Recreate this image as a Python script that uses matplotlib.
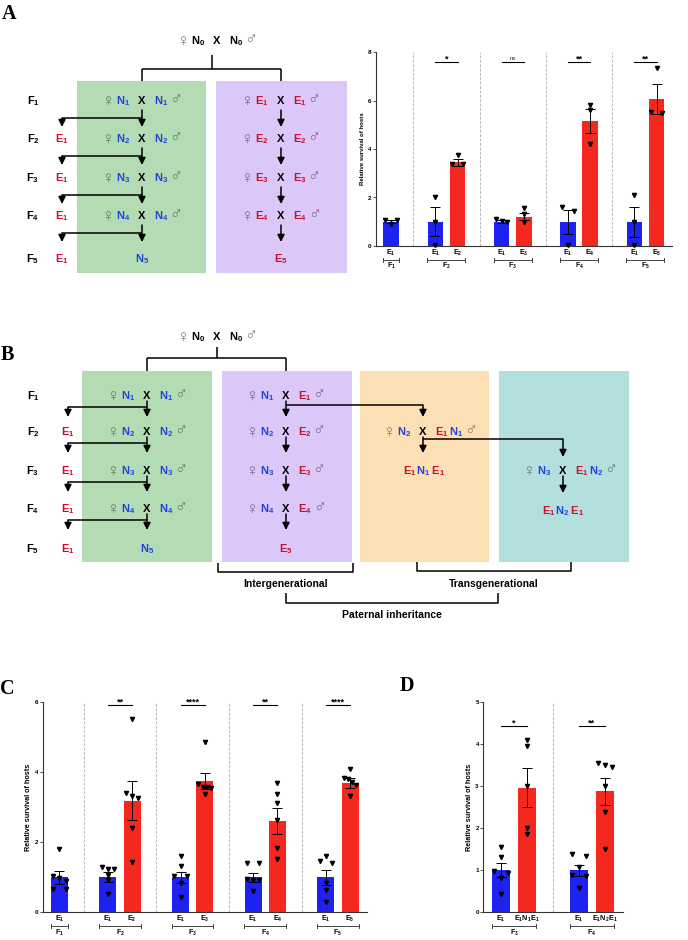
import numpy as np
import matplotlib
matplotlib.use("Agg")
import matplotlib.pyplot as plt
from matplotlib.patches import Rectangle

plt.rcParams["font.family"] = ["Liberation Sans", "DejaVu Sans"]
plt.rcParams["mathtext.fontset"] = "custom"
plt.rcParams["mathtext.rm"] = "Liberation Sans"
plt.rcParams["mathtext.bf"] = "Liberation Sans:bold"
plt.rcParams["mathtext.it"] = "Liberation Sans:italic"

# ----------------------------
# Data
# ----------------------------
# Panel A: survival, 3 replicates per bar
A_GROUP_OF = [0, 1, 1, 2, 2, 3, 3, 4, 4]
A_LABELS = ["E_1", "E_1", "E_2", "E_1", "E_3", "E_1", "E_4", "E_1", "E_5"]
A_GROUPS = ["F_1", "F_2", "F_3", "F_4", "F_5"]
A_MEAN = [1.0, 1.0, 3.46, 1.0, 1.2, 1.0, 5.16, 1.0, 6.09]
A_SEM = [0.07, 0.59, 0.14, 0.05, 0.15, 0.5, 0.51, 0.62, 0.62]
A_PTS = [[1.08, 0.9, 1.08], [2.03, 1.0, 0.03], [3.74, 3.39, 3.39],
         [1.1, 0.97, 1.04], [1.55, 1.31, 0.97], [1.62, 1.45, 0.03],
         [5.84, 5.6, 4.22], [2.12, 0.97, 0.03], [7.34, 5.51, 5.54]]
A_SIG = ["*", "ns", "**", "**"]

# Panel C: survival, 6 replicates per bar
C_GROUP_OF = [0, 1, 1, 2, 2, 3, 3, 4, 4]
C_LABELS = ["E_1", "E_1", "E_2", "E_1", "E_3", "E_1", "E_4", "E_1", "E_5"]
C_GROUPS = ["F_1", "F_2", "F_3", "F_4", "F_5"]
C_MEAN = [1.0, 1.0, 3.18, 1.0, 3.74, 1.0, 2.61, 1.0, 3.69]
C_SEM = [0.19, 0.14, 0.56, 0.16, 0.22, 0.13, 0.37, 0.21, 0.14]
C_PTS = [[1.8, 1.02, 0.97, 0.89, 0.66, 0.66],
         [1.3, 1.23, 1.23, 1.06, 0.92, 0.52],
         [5.5, 3.39, 3.3, 3.27, 2.41, 1.44],
         [1.59, 1.32, 1.02, 1.02, 0.83, 0.45],
         [4.86, 3.66, 3.58, 3.58, 3.55, 3.37],
         [1.4, 1.4, 0.94, 0.92, 0.92, 0.62],
         [3.69, 3.36, 3.1, 2.63, 1.82, 1.51],
         [1.6, 1.46, 1.4, 0.83, 0.64, 0.3],
         [4.07, 3.82, 3.79, 3.72, 3.63, 3.32]]
C_SIG = ["**", "****", "**", "****"]

# Panel D: transgenerational survival
D_GROUP_OF = [0, 0, 1, 1]
D_LABELS = ["E_1", "E_1N_1E_1", "E_1", "E_1N_2E_1"]
D_GROUPS = ["F_3", "F_4"]
D_MEAN = [1.0, 2.96, 1.0, 2.87]
D_SEM = [0.16, 0.47, 0.13, 0.33]
D_PTS = [[1.56, 1.32, 0.98, 0.94, 0.82, 0.44],
         [4.09, 3.96, 3.0, 1.99, 1.87],
         [1.38, 1.34, 1.08, 0.89, 0.86, 0.57],
         [3.54, 3.5, 3.46, 3.0, 2.37, 1.5]]
D_SIG = ["*", "**"]

# ----------------------------
# Style
# ----------------------------
BAR_BLUE = "#1e22f0"
BAR_RED = "#f5281f"
NBLUE = "#1f44dd"
ERED = "#c8102e"
GREEN = "#b4dcb4"
PURPLE = "#dcc8f8"
ORANGE = "#fddfb6"
TEAL = "#b3dfdf"
SYM_WHITE = "#7a7a7a"
SYM_GREEN = "#5c7c5e"
SYM_PURPLE = "#76658f"
SYM_ORANGE = "#8a7862"
SYM_TEAL = "#5e7e7e"

W, H = 688, 940
fig = plt.figure(figsize=(W / 100, H / 100), dpi=100)
dg = fig.add_axes([0, 0, 1, 1])
dg.set_xlim(0, W)
dg.set_ylim(H, 0)
dg.axis("off")
R = fig.canvas.get_renderer()

TS = 8       # diagram text size
BASE = 4     # half cap height in px (centre -> baseline)
GAP = 12     # X centre to parent label
SYM = 12.5   # sex symbol size


def m(s):
    return r"$\mathbf{" + s + "}$"


def chain(x, y, pieces, ha="left", gap=0.0, dy=0.0):
    # draw pieces side by side, return left/right pixel extent
    arts = []
    cur = 0.0
    for s, c, sz, wt in pieces:
        t = dg.text(0, y + BASE + dy, s, color=c, fontsize=sz, fontweight=wt,
                    ha="left", va="baseline")
        w = t.get_window_extent(R).width
        arts.append((t, cur))
        cur += w + gap
    total = cur - gap
    x0 = {"left": x, "right": x - total, "center": x - total / 2}[ha]
    for t, off in arts:
        t.set_x(x0 + off)
    return x0, x0 + total


def lab(parts):
    return [(m(s), c, TS, "bold") for s, c in parts]


def cross(xc, y, fem, male, sym):
    dg.text(xc, y + BASE, "X", color="k", fontsize=TS, fontweight="bold",
            ha="center", va="baseline")
    l0, _ = chain(xc - GAP, y, lab(fem), ha="right")
    chain(l0 - 1, y, [("\u2640", sym, SYM, "normal")], ha="right", dy=1.5)
    _, r1 = chain(xc + GAP, y, lab(male), ha="left")
    chain(r1 + 1, y, [("\u2642", sym, SYM, "normal")], ha="left", dy=0.5)


def line(xs, ys, lw=1.1):
    dg.plot(xs, ys, color="k", lw=lw, solid_capstyle="butt")


def arrow(x, y0, y1):
    dg.annotate("", xy=(x, y1), xytext=(x, y0),
                arrowprops=dict(arrowstyle="-|>,head_length=0.6,head_width=0.3",
                                color="k", lw=1.1, shrinkA=0, shrinkB=0,
                                mutation_scale=7))


def lineage(rows, xF, xE, xg, xp, purple_fem_col, off):
    s0, sb, st = off
    for i, y in enumerate(rows):
        chain(xF, y, lab([("F_%d" % (i + 1), "k")]), ha="center")
        if i > 0:
            chain(xE, y, lab([("E_1", ERED)]), ha="center")
    for i, y in enumerate(rows[:-1]):
        k = i + 1
        cross(xg, y, [("N_%d" % k, NBLUE)], [("N_%d" % k, NBLUE)], SYM_GREEN)
        fem = "N_%d" % k if purple_fem_col == NBLUE else "E_%d" % k
        cross(xp, y, [(fem, purple_fem_col)], [("E_%d" % k, ERED)], SYM_PURPLE)
        arrow(xg, y + s0, y + st)
        line([xg, xE], [y + sb, y + sb])
        arrow(xE, y + sb, y + st)
        arrow(xp, y + s0, y + st)
    chain(xg, rows[-1], lab([("N_5", NBLUE)]), ha="center")
    chain(xp, rows[-1], lab([("E_5", ERED)]), ha="center")


def top_tree(xc, y, ysplit, ybox, xg, xp):
    cross(xc, y, [("N_0", "k")], [("N_0", "k")], SYM_WHITE)
    mid = (xg + xp) / 2
    line([mid, mid], [y + (ysplit - y) * 0.5, ysplit])
    line([xg, xp], [ysplit, ysplit])
    line([xg, xg], [ysplit, ybox])
    line([xp, xp], [ysplit, ybox])


# ----------------------------
# Panel A diagram
# ----------------------------
A_ROWS = [100, 138, 177, 215, 258]
dg.add_patch(Rectangle((77, 81), 129, 192, color=GREEN, lw=0))
dg.add_patch(Rectangle((216, 81), 131, 192, color=PURPLE, lw=0))
top_tree(217, 40, 69, 81, 142, 281)
lineage(A_ROWS, 33, 62, 142, 281, ERED, (10, 18, 27))

# ----------------------------
# Panel B diagram
# ----------------------------
B_ROWS = [395, 431, 470, 508, 548]
dg.add_patch(Rectangle((82, 371), 130, 191, color=GREEN, lw=0))
dg.add_patch(Rectangle((222, 371), 130, 191, color=PURPLE, lw=0))
dg.add_patch(Rectangle((360, 371), 129, 191, color=ORANGE, lw=0))
dg.add_patch(Rectangle((499, 371), 130, 191, color=TEAL, lw=0))
top_tree(217, 336, 358, 371, 147, 286)
lineage(B_ROWS, 33, 68, 147, 286, NBLUE, (6, 12, 22))

# paternal line to orange and teal boxes
line([286, 423], [B_ROWS[0] + 10, B_ROWS[0] + 10])
arrow(423, B_ROWS[0] + 10, B_ROWS[0] + 22)
cross(423, B_ROWS[1], [("N_2", NBLUE)], [("E_1", ERED), ("N_1", NBLUE)], SYM_ORANGE)
arrow(423, B_ROWS[1] + 6, B_ROWS[1] + 22)
line([423, 563], [B_ROWS[1] + 8, B_ROWS[1] + 8])
arrow(563, B_ROWS[1] + 8, B_ROWS[1] + 26)
chain(424, B_ROWS[2], lab([("E_1", ERED), ("N_1", NBLUE), ("\\,E_1", ERED)]), ha="center")
cross(563, B_ROWS[2], [("N_3", NBLUE)], [("E_1", ERED), ("N_2", NBLUE)], SYM_TEAL)
arrow(563, B_ROWS[2] + 6, B_ROWS[2] + 23)
chain(563, B_ROWS[3] + 2, lab([("E_1", ERED), ("N_2", NBLUE), ("\\,E_1", ERED)]), ha="center")

# brackets
line([218, 218, 353, 353], [563, 572, 572, 563])
line([417, 417, 571, 571], [562, 571, 571, 562])
line([286, 286, 498, 498], [593, 603, 603, 593])
dg.text(285.5, 584, "Intergenerational", fontsize=7.5, fontweight="bold", ha="center", va="center")
dg.text(494, 584, "Transgenerational", fontsize=7.5, fontweight="bold", ha="center", va="center")
dg.text(392, 615, "Paternal inheritance", fontsize=7.5, fontweight="bold", ha="center", va="center")

# panel letters
for letter, x, y in [("A", 2, 14), ("B", 1, 355), ("C", 0, 689), ("D", 400, 686)]:
    dg.text(x, y, letter, family="Liberation Serif", fontsize=14.5,
            fontweight="bold", ha="left", va="center")


# ----------------------------
# Bar charts
# ----------------------------
def add_ax(l, r, t, b):
    return fig.add_axes([l / W, 1 - b / H, (r - l) / W, (b - t) / H])


def swarm(vals, thr, step):
    vals = np.asarray(vals, float)
    order = np.argsort(-vals)
    off = np.zeros(len(vals))
    clusters = []
    for i in order:
        if clusters and abs(vals[clusters[-1][-1]] - vals[i]) < thr:
            clusters[-1].append(i)
        else:
            clusters.append([i])
    for cl in clusters:
        if len(cl) > 1:
            off[cl] = np.linspace(-step, step, len(cl))
    return off


def bar_panel(ax, group_of, labels, means, sems, pts, groups, sig, sig_y,
              ymax, ystep, ylab_size, thr):
    pos = np.arange(len(means)) + np.array(group_of)
    cols = [BAR_BLUE if l == "E_1" else BAR_RED for l in labels]
    ax.bar(pos, means, width=0.7, color=cols, zorder=1)
    ax.errorbar(pos, means, yerr=sems, fmt="none", ecolor="k", elinewidth=0.7,
                capsize=3.5, capthick=0.7, zorder=2)
    for p, vals in zip(pos, pts):
        ax.plot(p + swarm(vals, thr, 0.26), vals, "v", ms=3, color="k",
                zorder=3, clip_on=False)

    ax.set_xlim(pos[0] - 0.7, pos[-1] + 0.7)
    ax.set_ylim(0, ymax)
    ax.set_yticks(np.arange(0, ymax + 0.01, ystep))
    for s in ["top", "right"]:
        ax.spines[s].set_visible(False)
    for s in ["left", "bottom"]:
        ax.spines[s].set_linewidth(0.8)
        ax.spines[s].set_color("#333333")
    ax.tick_params(axis="y", length=2, width=0.6, pad=1, labelsize=4.5, color="#333333")
    for t in ax.get_yticklabels():
        t.set_fontweight("bold")
    ax.set_xticks(pos, [m(l) for l in labels])
    ax.tick_params(axis="x", length=0, pad=1.4, labelsize=5.2)
    ax.set_ylabel("Relative survival of hosts", fontsize=ylab_size,
                  fontweight="bold", labelpad=2)
    ax.patch.set_visible(False)

    hpx = ax.get_position().height * H
    tr = ax.get_xaxis_transform()
    gidx = np.array(group_of)
    k = 0
    for g, name in enumerate(groups):
        gp = pos[gidx == g]
        yb = -14 / hpx
        ax.plot([gp[0] - 0.36, gp[-1] + 0.36], [yb, yb], color="#444444",
                lw=0.7, transform=tr, clip_on=False)
        for xe in (gp[0] - 0.36, gp[-1] + 0.36):
            ax.plot([xe, xe], [yb - 2 / hpx, yb + 2 / hpx], color="#444444",
                    lw=0.7, transform=tr, clip_on=False)
        ax.text(gp.mean(), -20.5 / hpx, m(name), fontsize=5, ha="center",
                va="center", transform=tr)
        if g < len(groups) - 1:
            sep = (gp[-1] + pos[gidx == g + 1][0]) / 2
            ax.axvline(sep, color="#b8b8b8", lw=0.7, ls=(0, (3, 1.5)), zorder=0)
        if len(gp) == 2:
            s = sig[k]
            k += 1
            ax.plot([gp[0], gp[1]], [sig_y, sig_y], color="k", lw=0.8)
            if s == "ns":
                ax.annotate(s, (gp.mean(), sig_y), xytext=(0, 1.2),
                            textcoords="offset points", ha="center",
                            va="baseline", fontsize=4.5, color="#333333")
            else:
                ax.annotate(s, (gp.mean(), sig_y), xytext=(0, 0.3),
                            textcoords="offset points", ha="center",
                            va="baseline", fontsize=6.5, fontweight="bold")


axA = add_ax(375.7, 672, 52.3, 245.9)
bar_panel(axA, A_GROUP_OF, A_LABELS, A_MEAN, A_SEM, A_PTS, A_GROUPS, A_SIG,
          7.61, 8, 2, 4.3, 0.18)

axC = add_ax(42.5, 367, 701.7, 912.3)
bar_panel(axC, C_GROUP_OF, C_LABELS, C_MEAN, C_SEM, C_PTS, C_GROUPS, C_SIG,
          5.9, 6, 2, 5.2, 0.12)

axD = add_ax(483, 623, 701.7, 912.3)
bar_panel(axD, D_GROUP_OF, D_LABELS, D_MEAN, D_SEM, D_PTS, D_GROUPS, D_SIG,
          4.43, 5, 1, 5.2, 0.1)

fig.savefig("out.png", dpi=100)
